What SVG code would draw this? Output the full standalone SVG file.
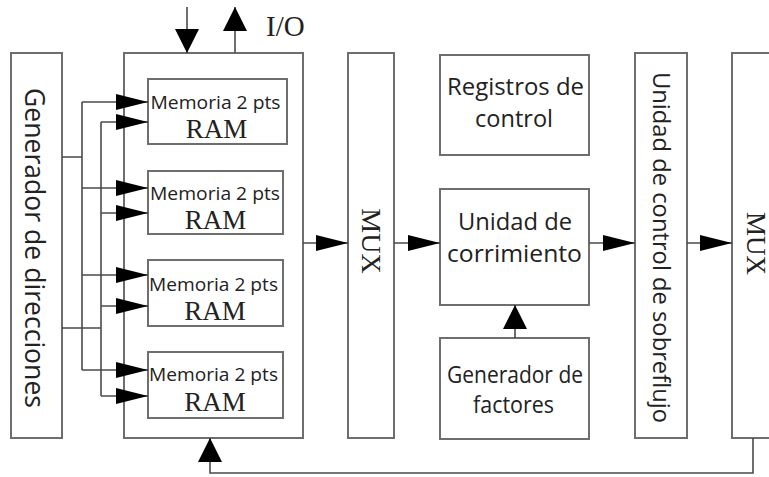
<svg xmlns="http://www.w3.org/2000/svg" width="769" height="477" viewBox="0 0 769 477">
<style>
.box{fill:#fff;stroke:#6e6e6e;stroke-width:2}
.ln{fill:none;stroke:#4a4a4a;stroke-width:1.6}
.ah{marker-end:url(#ah)}
.av{marker-end:url(#av)}
.s{font-family:"Open Sans","Liberation Sans",sans-serif;fill:#222}
.sr{font-family:"Liberation Serif","DejaVu Serif",serif;fill:#222}
.big{font-size:23px;text-anchor:middle}
.mem{font-size:18px;text-anchor:middle}
.ram{font-size:27px;text-anchor:middle}
</style>
<defs>
<marker id="ah" markerUnits="userSpaceOnUse" markerWidth="32" markerHeight="16" viewBox="0 0 32 16" refX="32" refY="8" orient="auto"><path d="M0,0 L32,8 L0,16 z" fill="#000"/></marker>
<marker id="av" markerUnits="userSpaceOnUse" markerWidth="24" markerHeight="24" viewBox="0 0 24 24" refX="24" refY="12" orient="auto"><path d="M0,0 L24,12 L0,24 z" fill="#000"/></marker>
</defs>
<rect width="769" height="477" fill="#fff"/>

<g id="gen-direcciones">
<rect class="box" x="11" y="53" width="51" height="385"/>
<text class="s" font-size="27" text-anchor="middle" textLength="320" lengthAdjust="spacingAndGlyphs" transform="translate(34.5,248) rotate(90)" x="0" y="9.5">Generador de direcciones</text>
</g>

<g id="memoria">
<rect class="box" x="124" y="53" width="179" height="385"/>
</g>
<g id="io-label"><text class="sr" font-size="29" x="266" y="36">I/O</text></g>

<g id="ram1">
<rect class="box" x="148" y="79" width="139" height="65"/>
<text class="s mem" x="215.5" y="109" textLength="130" lengthAdjust="spacingAndGlyphs">Memoria 2 pts</text>
<text class="sr ram" x="216.5" y="138">RAM</text>
</g>
<g id="ram2">
<rect class="box" x="148" y="171" width="135" height="63"/>
<text class="s mem" x="215" y="200" textLength="130" lengthAdjust="spacingAndGlyphs">Memoria 2 pts</text>
<text class="sr ram" x="215.5" y="229">RAM</text>
</g>
<g id="ram3">
<rect class="box" x="148" y="260" width="135" height="66"/>
<text class="s mem" x="213.5" y="291" textLength="129" lengthAdjust="spacingAndGlyphs">Memoria 2 pts</text>
<text class="sr ram" x="215" y="320">RAM</text>
</g>
<g id="ram4">
<rect class="box" x="148" y="352" width="135" height="66"/>
<text class="s mem" x="213.5" y="381" textLength="129" lengthAdjust="spacingAndGlyphs">Memoria 2 pts</text>
<text class="sr ram" x="215" y="411">RAM</text>
</g>

<g id="mux1">
<rect class="box" x="348" y="53" width="46" height="385"/>
<text class="sr" font-size="28" text-anchor="middle" transform="translate(371,241) rotate(90)" x="0" y="9.3">MUX</text>
</g>

<g id="registros">
<rect class="box" x="440" y="55" width="149" height="100"/>
<text class="s big" x="515.5" y="95" textLength="137" lengthAdjust="spacingAndGlyphs">Registros de</text>
<text class="s big" x="514" y="127" textLength="78" lengthAdjust="spacingAndGlyphs">control</text>
</g>

<g id="corrimiento">
<rect class="box" x="440" y="189" width="149" height="116"/>
<text class="s big" x="515" y="230" textLength="114" lengthAdjust="spacingAndGlyphs">Unidad de</text>
<text class="s big" x="514.5" y="262" textLength="135" lengthAdjust="spacingAndGlyphs">corrimiento</text>
</g>

<g id="factores">
<rect class="box" x="440" y="338" width="149" height="101"/>
<text class="s big" x="515" y="383" textLength="136" lengthAdjust="spacingAndGlyphs">Generador de</text>
<text class="s big" x="513.5" y="413" textLength="81" lengthAdjust="spacingAndGlyphs">factores</text>
</g>

<g id="sobreflujo">
<rect class="box" x="635" y="53" width="52" height="385"/>
<text class="s" font-size="23" text-anchor="middle" textLength="351" lengthAdjust="spacingAndGlyphs" transform="translate(661,247.5) rotate(90)" x="0" y="8.3">Unidad de control  de sobreflujo</text>
</g>

<g id="mux2">
<rect class="box" x="732" y="53" width="60" height="385"/>
<text class="sr" font-size="27" text-anchor="middle" transform="translate(755.5,243.5) rotate(90)" x="0" y="9">MUX</text>
</g>

<g id="connectors">
<path class="ln av" d="M187,7 V53"/>
<path class="ln av" d="M235,53 V7"/>
<path class="ln" d="M62,157 H82 M82,102 V370 M62,328 H101 M101,122 V396"/>
<path class="ln ah" d="M82,102 H148"/>
<path class="ln ah" d="M101,122 H148"/>
<path class="ln ah" d="M82,188 H148"/>
<path class="ln ah" d="M101,213 H148"/>
<path class="ln ah" d="M82,275 H148"/>
<path class="ln ah" d="M101,306 H148"/>
<path class="ln ah" d="M82,370 H148"/>
<path class="ln ah" d="M101,396 H148"/>
<path class="ln ah" d="M303,243 H348"/>
<path class="ln ah" d="M394,243 H440"/>
<path class="ln ah" d="M589,243 H635"/>
<path class="ln ah" d="M687,243 H732"/>
<path class="ln av" d="M515,338 V305"/>
<path class="ln av" d="M753,438 V473 H210 V438"/>
</g>
</svg>
